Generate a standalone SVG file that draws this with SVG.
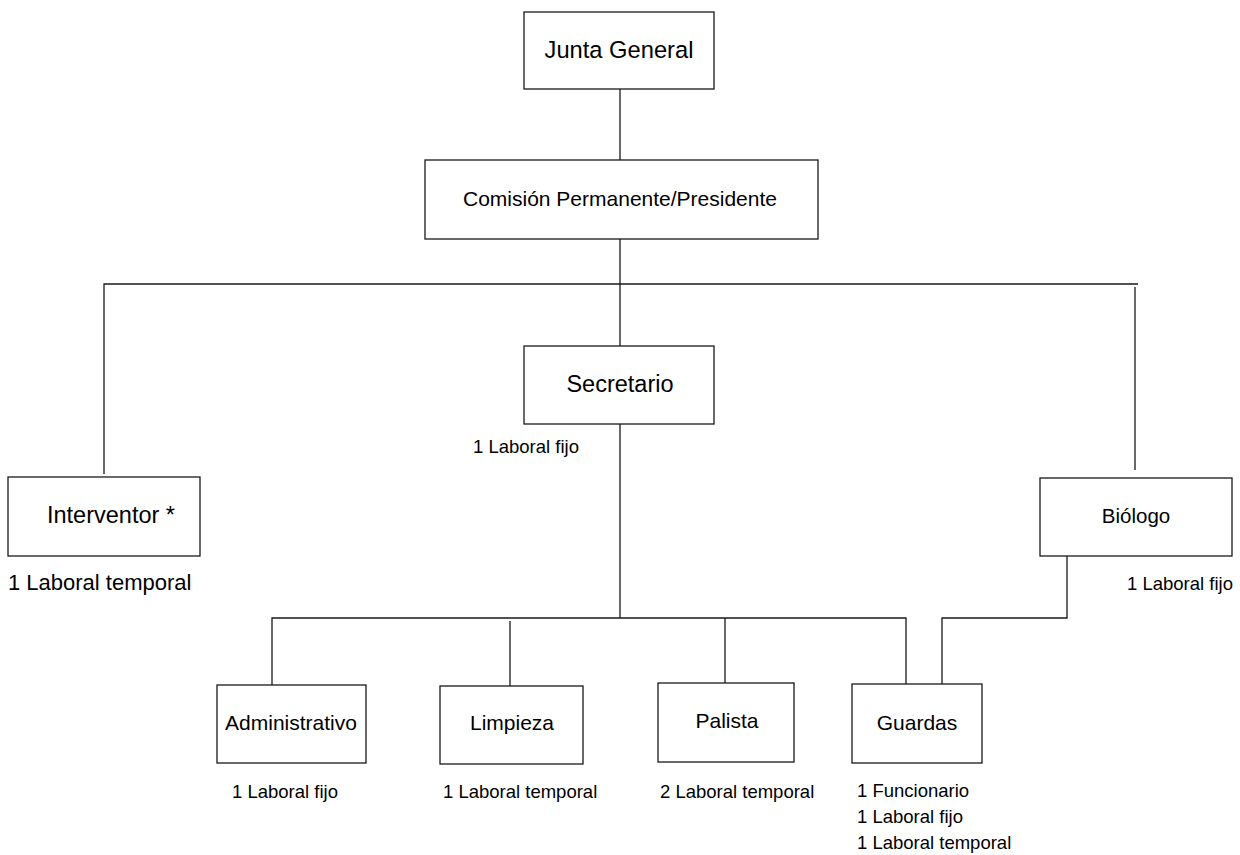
<svg xmlns="http://www.w3.org/2000/svg" width="1240" height="855" viewBox="0 0 1240 855">
<style>
.box{fill:#fff;stroke:#1a1a1a;stroke-width:1.3}
.ln{fill:none;stroke:#1a1a1a;stroke-width:1.3}
.t{font-family:"Liberation Sans",Arial,sans-serif;fill:#000;text-anchor:middle}
.lb{font-family:"Liberation Sans",Arial,sans-serif;fill:#000;font-size:18.5px}
</style>
<rect width="1240" height="855" fill="#fff"/>
<g id="connectors">
<path class="ln" d="M620 89V160"/>
<path class="ln" d="M620 239V346"/>
<path class="ln" d="M104 474V284H1138"/>
<path class="ln" d="M1135 287V470"/>
<path class="ln" d="M620 424V618"/>
<path class="ln" d="M272 685V618H906V684"/>
<path class="ln" d="M510 621V686"/>
<path class="ln" d="M725 618V683"/>
<path class="ln" d="M1067 556V618H942V684"/>
</g>
<g id="junta"><rect class="box" x="524" y="12" width="190" height="77"/><text class="t" x="619" y="58" font-size="23.7">Junta General</text></g>
<g id="comision"><rect class="box" x="425" y="160" width="393" height="79"/><text class="t" x="620" y="206" font-size="21">Comisión Permanente/Presidente</text></g>
<g id="secretario"><rect class="box" x="524" y="346" width="190" height="78"/><text class="t" x="620" y="392" font-size="23.5">Secretario</text><text class="lb" x="473" y="453">1 Laboral fijo</text></g>
<g id="interventor"><rect class="box" x="8" y="477" width="192" height="79"/><text class="t" x="111" y="523" font-size="23.5">Interventor *</text><text class="lb" x="8" y="590" style="font-size:22px">1 Laboral temporal</text></g>
<g id="biologo"><rect class="box" x="1040" y="478" width="192" height="78"/><text class="t" x="1136" y="523" font-size="20.5">Biólogo</text><text class="lb" x="1127" y="590">1 Laboral fijo</text></g>
<g id="administrativo"><rect class="box" x="217" y="685" width="149" height="78"/><text class="t" x="291" y="730" font-size="21">Administrativo</text><text class="lb" x="232" y="798">1 Laboral fijo</text></g>
<g id="limpieza"><rect class="box" x="440" y="686" width="143" height="78"/><text class="t" x="512" y="730" font-size="21">Limpieza</text><text class="lb" x="443" y="798">1 Laboral temporal</text></g>
<g id="palista"><rect class="box" x="658" y="683" width="136" height="79"/><text class="t" x="727" y="728" font-size="21">Palista</text><text class="lb" x="660" y="798">2 Laboral temporal</text></g>
<g id="guardas"><rect class="box" x="852" y="684" width="130" height="79"/><text class="t" x="917" y="730" font-size="21">Guardas</text><text class="lb" x="857" y="797">1 Funcionario</text><text class="lb" x="857" y="823">1 Laboral fijo</text><text class="lb" x="857" y="849">1 Laboral temporal</text></g>
</svg>
